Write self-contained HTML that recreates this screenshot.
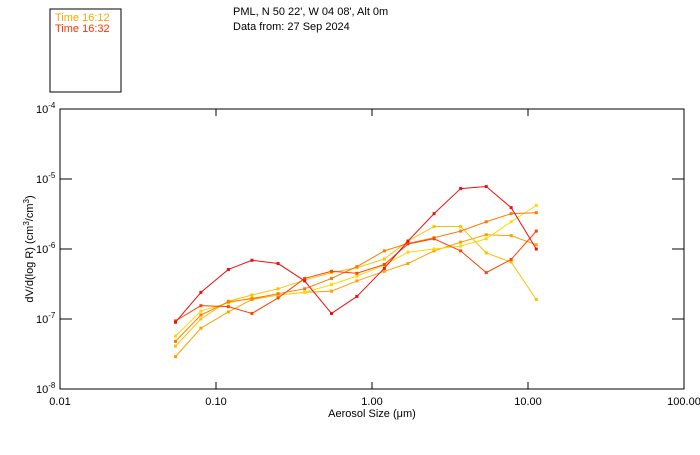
<!DOCTYPE html>
<html><head><meta charset="utf-8"><style>
body{margin:0;background:#fff;}
svg text{font-family:"Liberation Sans",sans-serif;font-size:11px;fill:#000;}
</style></head><body>
<svg id="c" width="700" height="450">
<rect x="50" y="9" width="71" height="83" fill="none" stroke="#000"/>
<text x="55" y="21" style="fill:#ffa500">Time 16:12</text>
<text x="55" y="32" style="fill:#ff3300">Time 16:32</text>
<text x="233" y="15">PML, N 50 22', W 04 08', Alt 0m</text>
<text x="233" y="30">Data from: 27 Sep 2024</text>
<rect x="60" y="109" width="624" height="280" fill="none" stroke="#000"/>
<g id="ax"></g><g id="series"></g>
<text x="372" y="417" text-anchor="middle">Aerosol Size (μm)</text>
<text transform="translate(33,249) rotate(-90)" text-anchor="middle">dV/d(log R) (cm<tspan dy="-4" font-size="8">3</tspan><tspan dy="4">/cm</tspan><tspan dy="-4" font-size="8">3</tspan><tspan dy="4">)</tspan></text>
</svg>
<script>
const sizes=[0.055,0.08,0.12,0.17,0.25,0.37,0.55,0.8,1.2,1.7,2.5,3.7,5.4,7.8,11.3];
const seriesA=[9e-8,2.4e-7,5.1e-7,6.9e-7,6.2e-7,3.5e-7,1.2e-7,2.1e-7,5.3e-7,1.3e-6,3.2e-6,7.3e-6,7.8e-6,3.9e-6,1.0e-6];
const seriesB=[9.4e-8,1.55e-7,1.5e-7,1.2e-7,2.0e-7,3.8e-7,4.8e-7,4.5e-7,6.0e-7,1.18e-6,1.4e-6,9.4e-7,4.6e-7,7.1e-7,1.8e-6];
const seriesC=[4.8e-8,1.14e-7,1.76e-7,1.95e-7,2.3e-7,2.7e-7,3.8e-7,5.6e-7,9.4e-7,1.2e-6,1.45e-6,1.8e-6,2.45e-6,3.2e-6,3.3e-6];
const seriesD=[2.9e-8,7.4e-8,1.26e-7,1.9e-7,2.2e-7,2.4e-7,2.5e-7,3.5e-7,4.8e-7,6.2e-7,9.4e-7,1.25e-6,1.6e-6,1.55e-6,1.15e-6];
const seriesE=[4.1e-8,1.0e-7,1.8e-7,2.2e-7,2.7e-7,3.6e-7,4.6e-7,5.4e-7,7.2e-7,1.3e-6,2.1e-6,2.1e-6,8.8e-7,6.5e-7,1.9e-7];
const seriesF=[5.7e-8,1.3e-7,1.7e-7,2.0e-7,2.2e-7,2.4e-7,3.1e-7,4.1e-7,5.9e-7,9.0e-7,1.0e-6,1.1e-6,1.4e-6,2.45e-6,4.2e-6];
const xTicks=[0.01,0.1,1,10,100];
const xTickLabels=["0.01","0.10","1.00","10.00","100.00"];
const yTicks=[-4,-5,-6,-7,-8];
const NS="http://www.w3.org/2000/svg";
const L=60,R=684,T=109,B=389;
const xs=v=>L+(Math.log10(v)+2)/4*(R-L);
const ys=v=>T+(-4-Math.log10(v))/4*(B-T);
const ax=document.getElementById('ax'),sg=document.getElementById('series');
function mk(p,tag,a){const e=document.createElementNS(NS,tag);for(const k in a)e.setAttribute(k,a[k]);p.appendChild(e);return e;}
xTicks.forEach((t,i)=>{const x=xs(t);
 const a=mk(ax,'line',{x1:x,x2:x,y1:B,y2:B-7,stroke:'#000'});
 
 
 mk(ax,'line',{x1:x,x2:x,y1:T,y2:T+7,stroke:'#000'});
 const tx=mk(ax,'text',{x:x,y:405,'text-anchor':'middle'});tx.textContent=xTickLabels[i];
 
 
});
yTicks.forEach(t=>{const y=ys(Math.pow(10,t));
 const a=mk(ax,'line',{x1:L,x2:L+12,y1:y,y2:y,stroke:'#000'});
 
 
 mk(ax,'line',{x1:R,x2:R-12,y1:y,y2:y,stroke:'#000'});
 const tx=mk(ax,'text',{x:36,y:y+4});
 tx.innerHTML='10<tspan dy="-5" font-size="8">'+t+'</tspan>';
 
 
});
const all=[[seriesD,'#ffa000'],[seriesF,'#ffd800'],[seriesE,'#ffc000'],[seriesC,'#ff7800'],[seriesB,'#ff4400'],[seriesA,'#ee1010']];
all.forEach(([s,c],k)=>{
 const g=mk(sg,'g',{});
 
 
 const pl=mk(g,'polyline',{points:s.map((v,i)=>xs(sizes[i])+','+ys(v)).join(' '),fill:'none',stroke:c,'stroke-width':1});
 
 
 s.forEach((v,i)=>{const r=mk(g,'rect',{x:xs(sizes[i])-1.5,y:ys(v)-1.5,width:3,height:3,fill:c});
  
  });
});
</script>
</body></html>
